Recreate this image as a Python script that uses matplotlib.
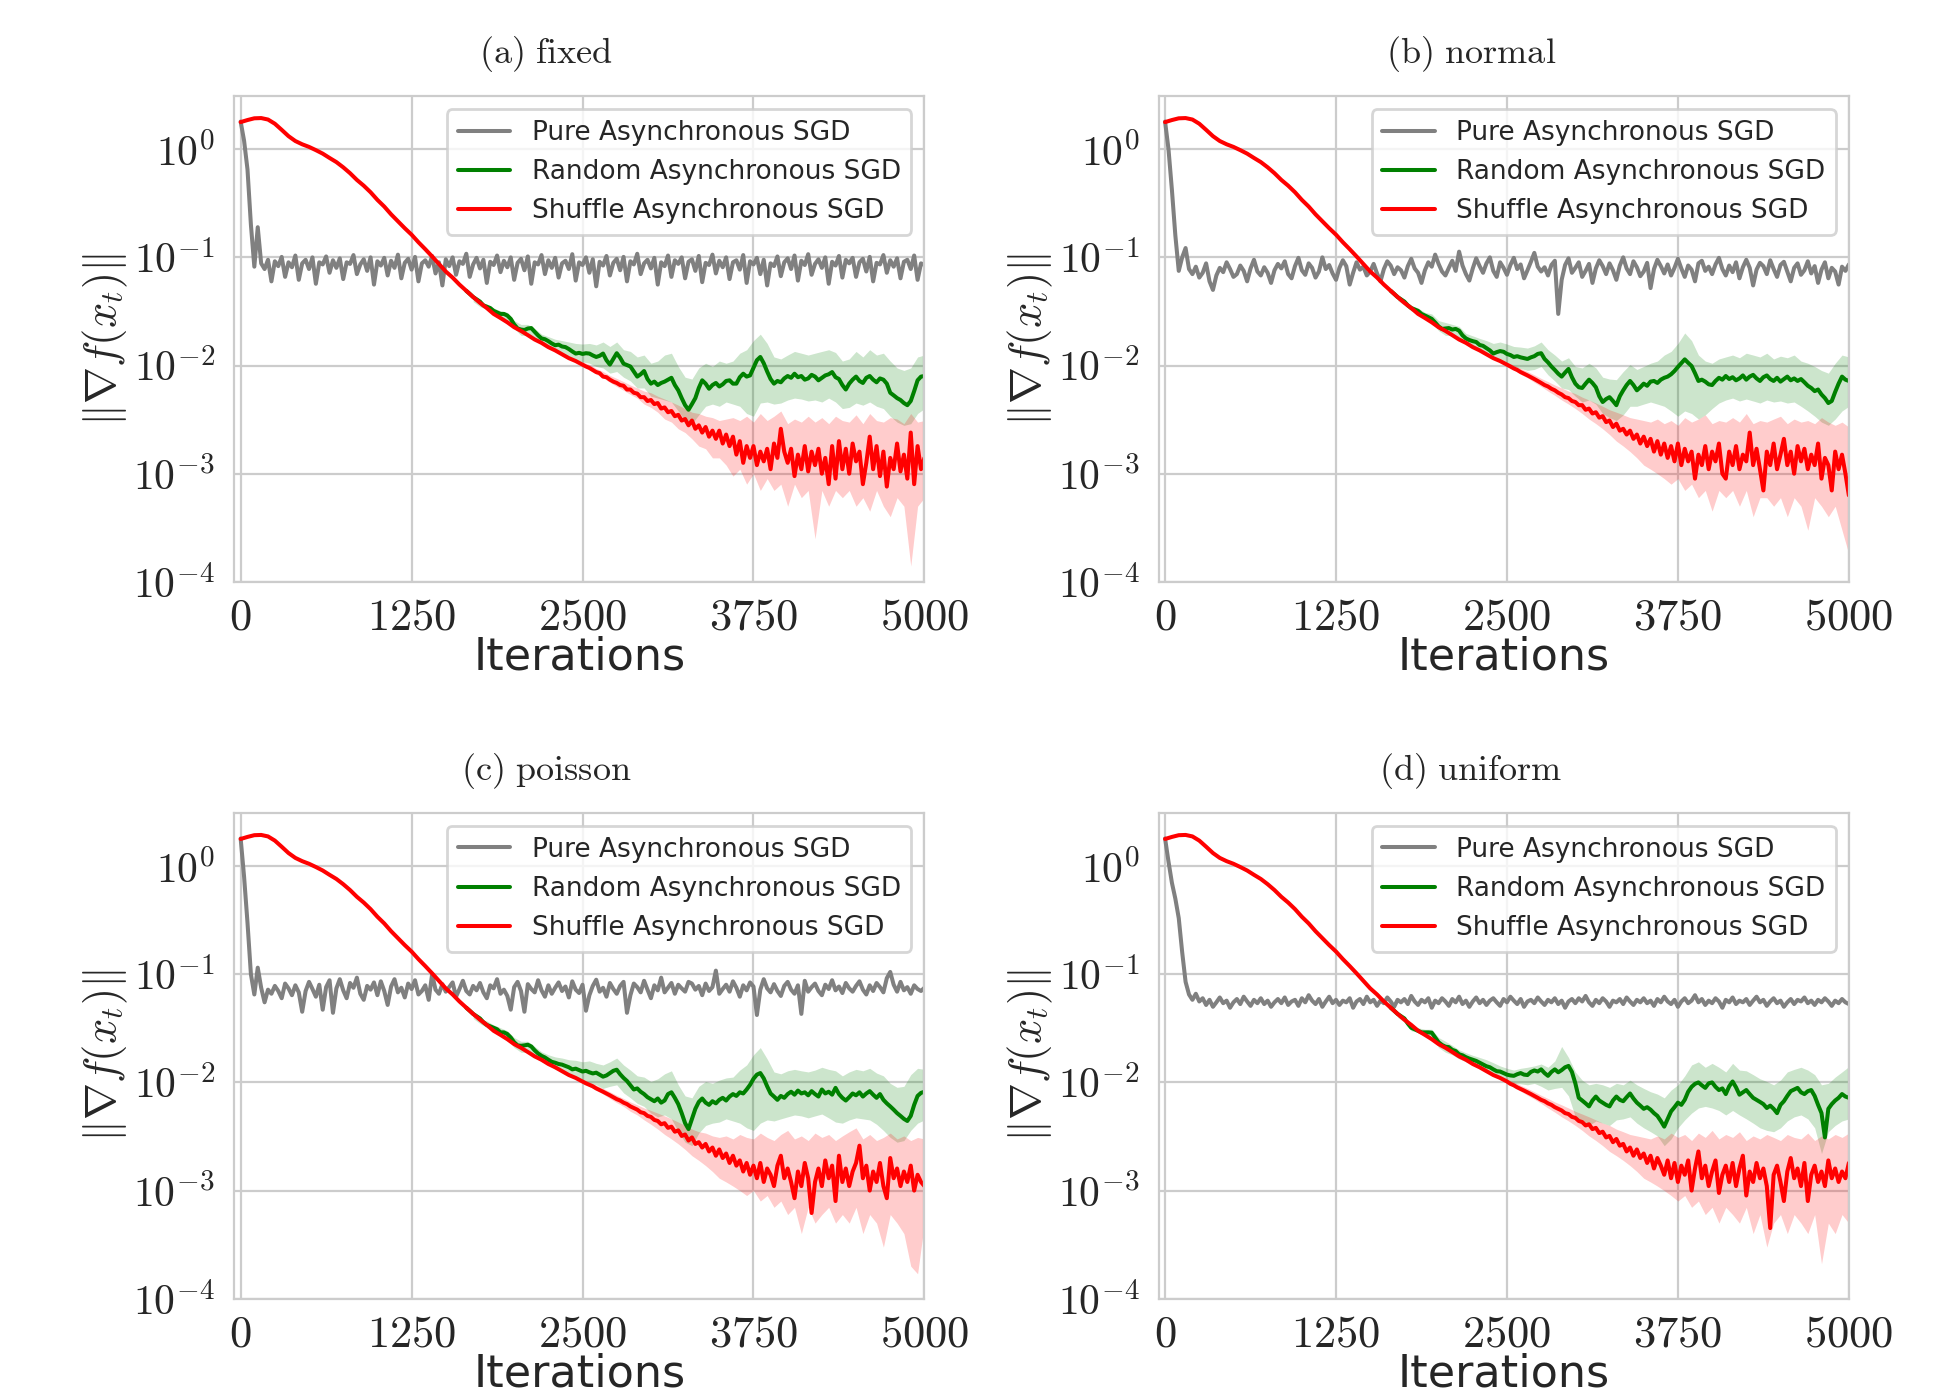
import numpy as np
import matplotlib
matplotlib.use("Agg")
import matplotlib.pyplot as plt
from matplotlib.ticker import FixedLocator, FuncFormatter, NullLocator
import seaborn as sns

sns.set_style("whitegrid")
plt.rcParams['font.family'] = ['DejaVu Sans']
plt.rcParams['mathtext.fontset'] = 'cm'

PANEL_TITLES = ["(a) fixed", "(b) normal", "(c) poisson", "(d) uniform"]
LEGEND_LABELS = ["Pure Asynchronous SGD", "Random Asynchronous SGD", "Shuffle Asynchronous SGD"]
X_TICKS = [0, 1250, 2500, 3750, 5000]
Y_TICKS = [1e-4, 1e-3, 1e-2, 1e-1, 1e0]
X_LABEL = "Iterations"
Y_LABEL = r"$\|\nabla f(x_t)\|$"

# ---------------- Pure asynchronous SGD (iterations 0..5000, step 25) ----------------
GRAY_FIXED = [
    1.8, 1.2, 0.65, 0.2, 0.082, 0.19, 0.088, 0.078, 0.095, 0.06,
    0.092, 0.083, 0.101, 0.066, 0.09, 0.081, 0.104, 0.062, 0.088, 0.095,
    0.078, 0.1, 0.057, 0.09, 0.086, 0.102, 0.072, 0.094, 0.08, 0.098,
    0.063, 0.09, 0.087, 0.105, 0.07, 0.086, 0.096, 0.075, 0.1, 0.056,
    0.092, 0.084, 0.099, 0.068, 0.093, 0.08, 0.106, 0.064, 0.089, 0.097,
    0.077, 0.101, 0.06, 0.088, 0.094, 0.082, 0.103, 0.071, 0.09, 0.055,
    0.096, 0.083, 0.1, 0.069, 0.092, 0.087, 0.108, 0.066, 0.086, 0.099,
    0.079, 0.095, 0.058, 0.091, 0.085, 0.104, 0.073, 0.093, 0.081, 0.1,
    0.062, 0.089, 0.097, 0.076, 0.102, 0.057, 0.09, 0.086, 0.105, 0.07,
    0.094, 0.08, 0.099, 0.065, 0.088, 0.093, 0.078, 0.107, 0.061, 0.09,
    0.085, 0.1, 0.072, 0.096, 0.054, 0.091, 0.084, 0.103, 0.068, 0.089,
    0.097, 0.076, 0.101, 0.06, 0.092, 0.086, 0.108, 0.07, 0.088, 0.095,
    0.079, 0.099, 0.056, 0.09, 0.083, 0.104, 0.066, 0.094, 0.087, 0.1,
    0.064, 0.091, 0.096, 0.075, 0.103, 0.059, 0.089, 0.085, 0.106, 0.071,
    0.093, 0.081, 0.1, 0.063, 0.09, 0.094, 0.077, 0.105, 0.058, 0.092,
    0.086, 0.099, 0.07, 0.095, 0.055, 0.088, 0.083, 0.102, 0.067, 0.09,
    0.098, 0.078, 0.104, 0.061, 0.093, 0.085, 0.107, 0.069, 0.087, 0.096,
    0.08, 0.1, 0.057, 0.091, 0.084, 0.103, 0.065, 0.095, 0.088, 0.099,
    0.066, 0.09, 0.097, 0.074, 0.101, 0.06, 0.089, 0.086, 0.105, 0.072,
    0.094, 0.082, 0.098, 0.064, 0.091, 0.095, 0.078, 0.104, 0.062, 0.088,
    0.085]
GRAY_NORMAL = [
    1.8, 1.0, 0.42, 0.16, 0.075, 0.1, 0.122, 0.078, 0.07, 0.082,
    0.065, 0.072, 0.088, 0.06, 0.05, 0.068, 0.08, 0.073, 0.09, 0.078,
    0.066, 0.07, 0.084, 0.075, 0.06, 0.079, 0.095, 0.074, 0.068, 0.081,
    0.072, 0.058, 0.076, 0.087, 0.079, 0.092, 0.07, 0.064, 0.083, 0.099,
    0.076, 0.069, 0.088, 0.08, 0.065, 0.074, 0.1, 0.078, 0.085, 0.071,
    0.062, 0.08, 0.094, 0.083, 0.056, 0.072, 0.09, 0.077, 0.082, 0.068,
    0.074, 0.087, 0.071, 0.06, 0.078, 0.092, 0.084, 0.07, 0.081, 0.076,
    0.065, 0.083, 0.097, 0.079, 0.072, 0.058, 0.076, 0.09, 0.082, 0.106,
    0.087, 0.074, 0.068, 0.08, 0.093, 0.075, 0.113, 0.084, 0.07, 0.061,
    0.079, 0.098, 0.083, 0.072, 0.088, 0.1, 0.075, 0.066, 0.09, 0.08,
    0.069, 0.085, 0.099, 0.078, 0.086, 0.064, 0.076, 0.091, 0.11, 0.082,
    0.074, 0.081, 0.068, 0.085, 0.093, 0.03, 0.062, 0.085, 0.098, 0.072,
    0.08, 0.09, 0.066, 0.075, 0.087, 0.058, 0.079, 0.094, 0.083, 0.07,
    0.088, 0.076, 0.062, 0.084, 0.1, 0.079, 0.07, 0.092, 0.081, 0.067,
    0.074, 0.089, 0.052, 0.078, 0.095, 0.083, 0.071, 0.086, 0.068, 0.08,
    0.097, 0.079, 0.066, 0.084, 0.077, 0.06, 0.088, 0.093, 0.075, 0.082,
    0.07, 0.086, 0.099, 0.078, 0.068, 0.084, 0.073, 0.09, 0.064, 0.081,
    0.095, 0.08, 0.055, 0.077, 0.089, 0.083, 0.07, 0.094, 0.078, 0.066,
    0.085, 0.091, 0.074, 0.06, 0.08, 0.088, 0.069, 0.076, 0.092, 0.071,
    0.083, 0.058, 0.077, 0.09, 0.064, 0.08, 0.074, 0.056, 0.082, 0.075,
    0.086]
GRAY_POISSON = [
    1.8, 0.8, 0.3, 0.1, 0.065, 0.115, 0.075, 0.055, 0.072, 0.066,
    0.078, 0.07, 0.06, 0.082, 0.074, 0.064, 0.079, 0.068, 0.045, 0.07,
    0.085, 0.073, 0.062, 0.08, 0.047, 0.076, 0.088, 0.044, 0.074, 0.09,
    0.071, 0.06, 0.083, 0.075, 0.093, 0.066, 0.058, 0.078, 0.072, 0.084,
    0.064, 0.086, 0.07, 0.052, 0.077, 0.09, 0.068, 0.075, 0.061, 0.082,
    0.073, 0.088, 0.065, 0.07, 0.079, 0.058, 0.1, 0.072, 0.066, 0.081,
    0.069, 0.076, 0.084, 0.062, 0.073, 0.087, 0.07, 0.065, 0.078, 0.071,
    0.083, 0.068, 0.06, 0.079, 0.074, 0.09, 0.066, 0.072, 0.063, 0.047,
    0.076, 0.085, 0.07, 0.045, 0.081, 0.073, 0.068, 0.088, 0.071, 0.062,
    0.079, 0.066, 0.075, 0.084, 0.07, 0.077, 0.061, 0.086, 0.072, 0.067,
    0.08, 0.046, 0.064, 0.078, 0.089, 0.069, 0.075, 0.062, 0.083, 0.073,
    0.066, 0.078, 0.085, 0.044, 0.064, 0.082, 0.076, 0.068, 0.087, 0.072,
    0.06, 0.079, 0.071, 0.093, 0.068, 0.075, 0.083, 0.066, 0.08, 0.074,
    0.069, 0.085, 0.082, 0.072, 0.078, 0.064, 0.082, 0.07, 0.076, 0.108,
    0.066, 0.073, 0.08, 0.069, 0.086, 0.075, 0.062, 0.079, 0.071, 0.084,
    0.077, 0.042, 0.072, 0.09, 0.074, 0.068, 0.081, 0.07, 0.063, 0.078,
    0.085, 0.072, 0.066, 0.079, 0.043, 0.087, 0.069, 0.076, 0.082, 0.07,
    0.064, 0.08, 0.073, 0.088, 0.071, 0.077, 0.067, 0.083, 0.074, 0.069,
    0.078, 0.086, 0.072, 0.065, 0.079, 0.07, 0.083, 0.076, 0.068, 0.092,
    0.105, 0.08, 0.069, 0.085, 0.071, 0.076, 0.066, 0.079, 0.073, 0.07,
    0.075]
GRAY_UNIFORM = [
    1.8, 1.1, 0.7, 0.5, 0.33, 0.16, 0.085, 0.065, 0.058, 0.066,
    0.056, 0.06, 0.052, 0.058, 0.05, 0.055, 0.061, 0.054, 0.057, 0.049,
    0.055, 0.059, 0.053, 0.062, 0.056, 0.051, 0.058, 0.054, 0.06, 0.053,
    0.057, 0.05, 0.055, 0.059, 0.054, 0.061, 0.052, 0.056, 0.058, 0.051,
    0.06, 0.055, 0.064, 0.057, 0.053, 0.059, 0.05, 0.056, 0.062, 0.054,
    0.058, 0.052, 0.057, 0.055, 0.06, 0.049, 0.056, 0.059, 0.053, 0.062,
    0.055, 0.058, 0.051, 0.057, 0.054, 0.061, 0.056, 0.05, 0.058, 0.055,
    0.059, 0.053, 0.063, 0.056, 0.052, 0.058, 0.055, 0.06, 0.049, 0.057,
    0.054, 0.06, 0.056, 0.051, 0.059, 0.055, 0.062, 0.053, 0.057, 0.05,
    0.056, 0.061, 0.054, 0.058, 0.052, 0.057, 0.06, 0.055, 0.051, 0.059,
    0.055, 0.062, 0.057, 0.053, 0.059, 0.05, 0.056, 0.058, 0.054, 0.061,
    0.056, 0.052, 0.058, 0.055, 0.06, 0.053, 0.057, 0.049, 0.056, 0.059,
    0.054, 0.06, 0.056, 0.063, 0.055, 0.051, 0.058, 0.054, 0.06, 0.056,
    0.05, 0.057, 0.055, 0.059, 0.053, 0.061, 0.056, 0.052, 0.058, 0.055,
    0.06, 0.054, 0.057, 0.051, 0.059, 0.055, 0.062, 0.056, 0.053, 0.058,
    0.05, 0.056, 0.06, 0.054, 0.057, 0.064, 0.055, 0.059, 0.052, 0.057,
    0.054, 0.06, 0.056, 0.049, 0.058, 0.055, 0.061, 0.053, 0.057, 0.055,
    0.059, 0.052, 0.057, 0.062, 0.055, 0.058, 0.051, 0.056, 0.06, 0.054,
    0.057, 0.05, 0.055, 0.059, 0.053, 0.058, 0.056, 0.061, 0.054, 0.057,
    0.052, 0.058, 0.055, 0.06, 0.056, 0.051, 0.057, 0.054, 0.059, 0.055,
    0.053]

# ---------------- Shuffle asynchronous SGD ----------------
# smooth common head, iterations 0..2500 step 50
RED_HEAD = [1.78, 1.86, 1.93, 1.94, 1.88, 1.72, 1.51, 1.32, 1.19, 1.11,
            1.05, 0.98, 0.91, 0.83, 0.76, 0.68, 0.60, 0.52, 0.46, 0.40,
            0.34, 0.295, 0.25, 0.216, 0.186, 0.162, 0.138, 0.119, 0.102, 0.087,
            0.074, 0.065, 0.056, 0.049, 0.043, 0.038, 0.034, 0.030, 0.0275, 0.0251,
            0.0226, 0.0209, 0.0191, 0.0174, 0.0162, 0.0148, 0.0138, 0.0127, 0.0117, 0.0110,
            0.0102]
# tails, iterations 2525..5000 step 25
RED_TAIL_FIXED = [
    0.0098, 0.0095, 0.0091, 0.0087, 0.0085, 0.0079, 0.0078, 0.0074, 0.0071, 0.0069,
    0.0066, 0.0065, 0.0060, 0.0060, 0.0056, 0.0055, 0.0051, 0.0051, 0.0047, 0.0048,
    0.0044, 0.0045, 0.0040, 0.0041, 0.0037, 0.0038, 0.0034, 0.0035, 0.0031, 0.0032,
    0.0028, 0.0031, 0.0026, 0.0028, 0.0024, 0.0027, 0.0022, 0.0025, 0.0021, 0.0025,
    0.0019, 0.0023, 0.0018, 0.0022, 0.0015, 0.0020, 0.00126, 0.0018, 0.0014, 0.0018,
    0.0012, 0.0016, 0.0013, 0.0017, 0.0011, 0.0019, 0.0014, 0.0026, 0.0016, 0.00126,
    0.0017, 0.00095, 0.0015, 0.0011, 0.0018, 0.00105, 0.0016, 0.0012, 0.0017, 0.0010,
    0.0014, 0.0008, 0.0018, 0.0009, 0.0020, 0.0011, 0.0017, 0.0010, 0.0019, 0.0013,
    0.0016, 0.0008, 0.00126, 0.0022, 0.0011, 0.0018, 0.00095, 0.0016, 0.00076, 0.0014,
    0.0011, 0.0019, 0.00105, 0.0015, 0.0009, 0.0024, 0.0008, 0.0018, 0.0011, 0.0014]
RED_TAIL_NORMAL = [
    0.0098, 0.0094, 0.0091, 0.0087, 0.0084, 0.0081, 0.0078, 0.0075, 0.0072, 0.0069,
    0.0066, 0.0064, 0.0061, 0.0059, 0.0056, 0.0054, 0.0051, 0.0050, 0.0047, 0.0046,
    0.0043, 0.0043, 0.0039, 0.0040, 0.0036, 0.0037, 0.0033, 0.0034, 0.0030, 0.0031,
    0.0027, 0.0029, 0.0025, 0.0026, 0.0023, 0.0025, 0.0021, 0.0023, 0.0019, 0.0022,
    0.0018, 0.0021, 0.0016, 0.0020, 0.0015, 0.0019, 0.0014, 0.0018, 0.0013, 0.0019,
    0.0012, 0.0017, 0.0013, 0.0016, 0.0009, 0.0015, 0.0012, 0.0018, 0.0011, 0.0016,
    0.0013, 0.0019, 0.0010, 0.0009, 0.0016, 0.0012, 0.0018, 0.0011, 0.0015, 0.0013,
    0.0024, 0.0012, 0.0017, 0.0011, 0.0007, 0.0016, 0.0012, 0.0019, 0.0011, 0.0015,
    0.0021, 0.0012, 0.0016, 0.0010, 0.0018, 0.0013, 0.0017, 0.0011, 0.0015, 0.0012,
    0.0019, 0.0009, 0.0014, 0.0012, 0.0007, 0.0016, 0.0011, 0.0015, 0.0010, 0.00063]
RED_TAIL_POISSON = [
    0.0098, 0.0095, 0.0092, 0.0088, 0.0085, 0.0082, 0.0079, 0.0076, 0.0073, 0.007,
    0.0068, 0.0065, 0.0063, 0.006, 0.0058, 0.0056, 0.0053, 0.0052, 0.0049, 0.0048,
    0.0045, 0.0044, 0.0041, 0.0042, 0.0038, 0.0039, 0.0035, 0.0036, 0.0032, 0.0033,
    0.0029, 0.0031, 0.0027, 0.0028, 0.0025, 0.0027, 0.0023, 0.0025, 0.0021, 0.0024,
    0.002, 0.0022, 0.0018, 0.0021, 0.0017, 0.0019, 0.0015, 0.0018, 0.0014, 0.0017,
    0.0013, 0.0018, 0.0012, 0.0016, 0.0014, 0.0011, 0.0017, 0.0021, 0.0013, 0.0016,
    0.0012, 0.00085, 0.0015, 0.0011, 0.0018, 0.0013, 0.00062, 0.0012, 0.0016, 0.0011,
    0.0019, 0.0013, 0.0017, 0.0008, 0.0021, 0.0012, 0.0016, 0.0011, 0.0015, 0.0018,
    0.0026, 0.0013, 0.0017, 0.001, 0.0015, 0.0012, 0.0018, 0.0011, 0.00085, 0.002,
    0.0013, 0.0016, 0.0011, 0.0015, 0.0012, 0.0017, 0.001, 0.0014, 0.0012, 0.0011]
RED_TAIL_UNIFORM = [
    0.0097, 0.0094, 0.0090, 0.0087, 0.0084, 0.0081, 0.0078, 0.0075, 0.0072, 0.0069,
    0.0067, 0.0064, 0.0062, 0.0059, 0.0057, 0.0055, 0.0052, 0.0051, 0.0048, 0.0047,
    0.0044, 0.0043, 0.0040, 0.0041, 0.0037, 0.0038, 0.0034, 0.0035, 0.0031, 0.0032,
    0.0028, 0.003, 0.0026, 0.0027, 0.0023, 0.0025, 0.0021, 0.0024, 0.002, 0.0022,
    0.0018, 0.0021, 0.0016, 0.002, 0.0017, 0.0014, 0.0019, 0.0013, 0.0018, 0.0012,
    0.0017, 0.0014, 0.0019, 0.001, 0.0016, 0.0023, 0.0013, 0.0017, 0.0011, 0.0015,
    0.0019, 0.00095, 0.0014, 0.0017, 0.0012, 0.0018, 0.0011, 0.0016, 0.0021, 0.0009,
    0.0015, 0.0012, 0.0018, 0.0013, 0.0016, 0.0011, 0.00045, 0.0014, 0.0017, 0.0012,
    0.0008, 0.0015, 0.002, 0.0013, 0.0016, 0.0011, 0.0018, 0.0008, 0.0014, 0.0017,
    0.0012, 0.0015, 0.0011, 0.0019, 0.0013, 0.0016, 0.0012, 0.0015, 0.0013, 0.0018]
# bands, iterations 2500..5000 step 50
RED_HI_FIXED = [0.0108, 0.0102, 0.0094, 0.0088, 0.0081, 0.0076, 0.0071, 0.0066, 0.0062, 0.0058,
                0.0056, 0.0052, 0.0049, 0.0046, 0.0043, 0.0040, 0.0037, 0.0036, 0.0034, 0.0033,
                0.0031, 0.0032, 0.0033, 0.0031, 0.0034, 0.0030, 0.0036, 0.0031, 0.0034, 0.0038,
                0.0029, 0.0032, 0.0030, 0.0034, 0.0030, 0.0033, 0.0029, 0.0034, 0.0031, 0.0030,
                0.0035, 0.0029, 0.0036, 0.0031, 0.0030, 0.0033, 0.0032, 0.0029, 0.0036, 0.0030, 0.0031]
RED_LO_FIXED = [0.0099, 0.0091, 0.0083, 0.0077, 0.0070, 0.0064, 0.0059, 0.0054, 0.0050, 0.0044,
                0.0041, 0.0037, 0.0032, 0.0030, 0.0026, 0.0024, 0.0021, 0.0018, 0.0017, 0.0014,
                0.0014, 0.0012, 0.00095, 0.0011, 0.0008, 0.001, 0.0007, 0.0009, 0.0007, 0.0008,
                0.0005, 0.0008, 0.0006, 0.0007, 0.00025, 0.0007, 0.0005, 0.0007, 0.0006, 0.0007,
                0.0005, 0.0006, 0.00045, 0.0007, 0.0005, 0.0004, 0.0006, 0.0005, 0.00014, 0.0005, 0.0006]
RED_HI_NORMAL = [0.0107, 0.0101, 0.0094, 0.0088, 0.0082, 0.0076, 0.0071, 0.0066, 0.0062, 0.0058,
                 0.0055, 0.0051, 0.0048, 0.0045, 0.0042, 0.0039, 0.0037, 0.0035, 0.0033, 0.0032,
                 0.0031, 0.0030, 0.0032, 0.0029, 0.0031, 0.0028, 0.0033, 0.0030, 0.0032, 0.0035,
                 0.0029, 0.0031, 0.0030, 0.0033, 0.0030, 0.0036, 0.0029, 0.0031, 0.0030, 0.0032,
                 0.0034, 0.0029, 0.0032, 0.0030, 0.0031, 0.0029, 0.0033, 0.0030, 0.0028, 0.0030, 0.0027]
RED_LO_NORMAL = [0.0098, 0.0091, 0.0083, 0.0077, 0.007, 0.0064, 0.0058, 0.0053, 0.0048, 0.0044,
                 0.004, 0.0036, 0.0032, 0.0029, 0.0026, 0.0023, 0.002, 0.0018, 0.0016, 0.0014,
                 0.0012, 0.0011, 0.001, 0.0009, 0.0008, 0.0009, 0.0007, 0.0008, 0.0006, 0.0007,
                 0.00045, 0.0007, 0.0006, 0.0007, 0.0005, 0.0007, 0.0004, 0.0006, 0.0006, 0.0005,
                 0.0006, 0.0004, 0.0006, 0.0005, 0.0003, 0.0006, 0.0005, 0.0004, 0.0005, 0.0003, 0.00018]
RED_HI_POISSON = [0.0107, 0.0101, 0.0094, 0.0088, 0.0082, 0.0076, 0.0071, 0.0066, 0.0062, 0.0058,
                  0.0055, 0.0052, 0.0049, 0.0046, 0.0043, 0.004, 0.0037, 0.0035, 0.0034, 0.0032,
                  0.0031, 0.0032, 0.003, 0.0033, 0.0031, 0.003, 0.0034, 0.0031, 0.0029, 0.0033,
                  0.0036, 0.003, 0.0032, 0.0029, 0.0034, 0.0031, 0.0033, 0.0029, 0.0032, 0.0035,
                  0.0038, 0.003, 0.0033, 0.0029, 0.0031, 0.0034, 0.003, 0.0032, 0.0029, 0.0031, 0.003]
RED_LO_POISSON = [0.0099, 0.0092, 0.0085, 0.0078, 0.0071, 0.0065, 0.006, 0.0054, 0.005, 0.0045,
                  0.0041, 0.0037, 0.0033, 0.003, 0.0027, 0.0024, 0.0021, 0.0019, 0.0017, 0.0015,
                  0.0013, 0.0012, 0.0011, 0.001, 0.0009, 0.001, 0.0008, 0.0009, 0.0007, 0.0008,
                  0.0006, 0.0007, 0.0004, 0.0007, 0.0005, 0.0006, 0.0007, 0.0005, 0.0006, 0.0005,
                  0.0007, 0.0004, 0.0006, 0.0005, 0.0003, 0.0006, 0.0005, 0.0004, 0.0002, 0.00017, 0.0005]
RED_HI_UNIFORM = [0.0107, 0.0101, 0.0094, 0.0088, 0.0082, 0.0076, 0.0071, 0.0066, 0.0062, 0.0058,
                  0.0054, 0.0051, 0.0048, 0.0045, 0.0042, 0.004, 0.0037, 0.0035, 0.0033, 0.0032,
                  0.0031, 0.0030, 0.0032, 0.0030, 0.0034, 0.0031, 0.0033, 0.0029, 0.0034, 0.0031,
                  0.0036, 0.003, 0.0033, 0.0031, 0.0035, 0.0029, 0.0032, 0.003, 0.0033, 0.0031,
                  0.0029, 0.0033, 0.0031, 0.003, 0.0034, 0.0029, 0.0032, 0.0030, 0.0033, 0.0031, 0.0034]
RED_LO_UNIFORM = [0.0098, 0.0091, 0.0083, 0.0076, 0.007, 0.0064, 0.0058, 0.0053, 0.0048, 0.0044,
                  0.004, 0.0036, 0.0032, 0.0029, 0.0026, 0.0023, 0.0021, 0.0019, 0.0017, 0.0015,
                  0.0013, 0.0012, 0.0011, 0.001, 0.0009, 0.0008, 0.0009, 0.0007, 0.0008, 0.0006,
                  0.0007, 0.0005, 0.0007, 0.0006, 0.0005, 0.0007, 0.0004, 0.0006, 0.0003, 0.0005,
                  0.0006, 0.0004, 0.0006, 0.0005, 0.0004, 0.0006, 0.00021, 0.0005, 0.0004, 0.0006, 0.0005]

# ---------------- Random asynchronous SGD (iterations 1650..5000 step 25) ----------------
GREEN_FIXED = [
    0.049, 0.046, 0.043, 0.041, 0.039, 0.036, 0.035, 0.034, 0.032, 0.031,
    0.030, 0.030, 0.029, 0.027, 0.024, 0.022, 0.0215, 0.0213, 0.022, 0.0222,
    0.0205, 0.019, 0.0178, 0.0175, 0.0168, 0.016, 0.0154, 0.0156, 0.015, 0.0148,
    0.0142, 0.0135, 0.0129, 0.0131, 0.0128, 0.013, 0.0129, 0.0124, 0.012, 0.0123,
    0.0129, 0.0112, 0.0102, 0.0115, 0.013, 0.0118, 0.0104, 0.0101, 0.0098, 0.0088,
    0.0079, 0.0083, 0.0089, 0.0075, 0.0068, 0.0071, 0.0066, 0.0069, 0.0071, 0.0074,
    0.0077, 0.0066, 0.0059, 0.0050, 0.0043, 0.0039, 0.0044, 0.0050, 0.0062, 0.0073,
    0.0068, 0.0061, 0.0066, 0.0069, 0.0064, 0.0067, 0.0072, 0.0073, 0.0068, 0.0068,
    0.0078, 0.0084, 0.0079, 0.0081, 0.0095, 0.0112, 0.012, 0.0105, 0.0088, 0.0075,
    0.0068, 0.0072, 0.0070, 0.0076, 0.0080, 0.0077, 0.0084, 0.0078, 0.0080, 0.0074,
    0.0076, 0.0082, 0.0079, 0.0073, 0.0077, 0.0081, 0.0083, 0.0087, 0.0078, 0.0075,
    0.0066, 0.0060, 0.0068, 0.0074, 0.0079, 0.0072, 0.0069, 0.0077, 0.0080, 0.0074,
    0.0070, 0.0076, 0.0074, 0.0068, 0.0056, 0.0053, 0.0050, 0.0048, 0.0045, 0.0043,
    0.0047, 0.0058, 0.0073, 0.0079, 0.0080]
GREEN_NORMAL = [
    0.049, 0.046, 0.043, 0.041, 0.039, 0.036, 0.034, 0.033, 0.032, 0.03,
    0.029, 0.028, 0.027, 0.025, 0.023, 0.0218, 0.022, 0.0222, 0.0215, 0.0218,
    0.021, 0.019, 0.0178, 0.0172, 0.0168, 0.0165, 0.0155, 0.0152, 0.0145, 0.0138,
    0.0129, 0.0133, 0.0136, 0.0134, 0.0128, 0.0125, 0.012, 0.0122, 0.0119, 0.0117,
    0.0115, 0.0119, 0.0122, 0.0128, 0.013, 0.0115, 0.0107, 0.0098, 0.0091, 0.0084,
    0.0079, 0.0086, 0.0093, 0.0078, 0.0068, 0.0063, 0.0062, 0.0068, 0.0074, 0.0069,
    0.0063, 0.0052, 0.0046, 0.0049, 0.0051, 0.0047, 0.0043, 0.0052, 0.0059, 0.0066,
    0.0072, 0.0066, 0.0059, 0.0063, 0.0068, 0.0065, 0.0071, 0.0072, 0.0069, 0.0074,
    0.0077, 0.0079, 0.0083, 0.0089, 0.0097, 0.0105, 0.0114, 0.0106, 0.0099, 0.0085,
    0.0072, 0.0074, 0.0071, 0.0067, 0.0066, 0.0072, 0.0077, 0.0074, 0.0080, 0.0075,
    0.0078, 0.0073, 0.0076, 0.0081, 0.0074, 0.0079, 0.0082, 0.0076, 0.0072, 0.0078,
    0.0081, 0.0075, 0.0072, 0.0077, 0.0071, 0.0075, 0.0079, 0.0073, 0.0076, 0.0072,
    0.0075, 0.0070, 0.0065, 0.0062, 0.0058, 0.0060, 0.0054, 0.0050, 0.0045, 0.0047,
    0.0057, 0.0068, 0.0079, 0.0074, 0.0072]
GREEN_POISSON = [
    0.049, 0.046, 0.043, 0.041, 0.039, 0.036, 0.034, 0.033, 0.032, 0.031,
    0.029, 0.029, 0.028, 0.026, 0.0235, 0.022, 0.0218, 0.022, 0.0223, 0.0215,
    0.0198, 0.0185, 0.0176, 0.017, 0.0162, 0.0155, 0.0152, 0.0148, 0.0146, 0.0142,
    0.0138, 0.0132, 0.0134, 0.013, 0.0126, 0.0128, 0.0124, 0.0121, 0.0123, 0.0118,
    0.0113, 0.0116, 0.0122, 0.0128, 0.0131, 0.0119, 0.011, 0.0103, 0.0094, 0.0086,
    0.0088, 0.0082, 0.0078, 0.0073, 0.0070, 0.0067, 0.0071, 0.0065, 0.0068, 0.0078,
    0.0081, 0.0072, 0.0063, 0.0052, 0.0042, 0.0037, 0.0046, 0.0057, 0.0066, 0.0071,
    0.0065, 0.0062, 0.0067, 0.0064, 0.0069, 0.0072, 0.0068, 0.0074, 0.0078, 0.0075,
    0.0081, 0.0079, 0.0086, 0.0095, 0.0108, 0.0118, 0.0122, 0.0109, 0.0092, 0.0079,
    0.0074, 0.0069, 0.0075, 0.0072, 0.0078, 0.0082, 0.0077, 0.0084, 0.0079, 0.0081,
    0.0076, 0.0083, 0.0078, 0.0074, 0.0086, 0.0079, 0.0082, 0.0077, 0.0089, 0.0078,
    0.0072, 0.0068, 0.0073, 0.0079, 0.0076, 0.0081, 0.0074, 0.0079, 0.0083, 0.0077,
    0.0072, 0.0078, 0.0069, 0.0064, 0.0060, 0.0056, 0.0052, 0.0049, 0.0046, 0.0044,
    0.0049, 0.0062, 0.0075, 0.0080, 0.0082]
GREEN_UNIFORM = [
    0.049, 0.046, 0.043, 0.041, 0.039, 0.035, 0.032, 0.031, 0.03, 0.029,
    0.029, 0.029, 0.0288, 0.026, 0.0235, 0.0222, 0.0214, 0.0212, 0.02, 0.0195,
    0.0182, 0.0178, 0.0171, 0.0166, 0.0162, 0.0158, 0.0152, 0.0146, 0.0141, 0.0138,
    0.0132, 0.0127, 0.0126, 0.0122, 0.0118, 0.0116, 0.0115, 0.0119, 0.0122, 0.0118,
    0.0117, 0.0125, 0.0129, 0.0126, 0.0132, 0.0122, 0.0115, 0.0125, 0.0132, 0.0124,
    0.013, 0.0138, 0.0142, 0.0125, 0.0098, 0.0072, 0.0068, 0.0064, 0.006, 0.0068,
    0.0074, 0.0068, 0.0065, 0.0062, 0.006, 0.0068, 0.0074, 0.0069, 0.0067, 0.0073,
    0.0079, 0.0071, 0.0065, 0.0061, 0.0057, 0.0059, 0.0056, 0.0052, 0.0049, 0.0044,
    0.0039, 0.0046, 0.0054, 0.0059, 0.0065, 0.0062, 0.0069, 0.0082, 0.0091, 0.0097,
    0.0100, 0.0094, 0.0089, 0.0098, 0.0100, 0.0091, 0.0085, 0.0088, 0.0078, 0.0092,
    0.0102, 0.0090, 0.0077, 0.0081, 0.0085, 0.0078, 0.0072, 0.0069, 0.0066, 0.0063,
    0.0058, 0.0061, 0.0057, 0.0052, 0.0062, 0.0067, 0.0075, 0.0083, 0.0086, 0.0089,
    0.0081, 0.0078, 0.0083, 0.0085, 0.0075, 0.0062, 0.0052, 0.0031, 0.0057, 0.0063,
    0.0068, 0.0072, 0.0078, 0.0074, 0.0072]
# bands, iterations 1700..5000 step 50
GREEN_HI_FIXED = [0.043, 0.039, 0.037, 0.034, 0.032, 0.031, 0.026, 0.024, 0.024, 0.022,
                  0.0195, 0.0185, 0.0175, 0.017, 0.0165, 0.016, 0.0158, 0.016, 0.0155, 0.0165,
                  0.015, 0.0165, 0.014, 0.0135, 0.012, 0.0125, 0.0105, 0.011, 0.0125, 0.013,
                  0.0098, 0.0078, 0.0075, 0.0095, 0.0105, 0.0098, 0.011, 0.0105, 0.011, 0.013,
                  0.014, 0.017, 0.0195, 0.016, 0.012, 0.0115, 0.0125, 0.0135, 0.013, 0.0125,
                  0.013, 0.0135, 0.014, 0.0132, 0.011, 0.0115, 0.0135, 0.012, 0.014, 0.0125,
                  0.013, 0.011, 0.0095, 0.009, 0.0095, 0.012, 0.0125]
GREEN_LO_FIXED = [0.039, 0.035, 0.033, 0.030, 0.028, 0.026, 0.022, 0.019, 0.019, 0.018,
                  0.016, 0.015, 0.0135, 0.013, 0.0122, 0.0112, 0.0108, 0.0105, 0.0098, 0.0095,
                  0.0085, 0.0088, 0.0078, 0.0072, 0.0062, 0.0062, 0.0052, 0.005, 0.0048, 0.0046,
                  0.0038, 0.0031, 0.0029, 0.0035, 0.0042, 0.0044, 0.0042, 0.0046, 0.0044, 0.0042,
                  0.0036, 0.0034, 0.0045, 0.0046, 0.0044, 0.0045, 0.0048, 0.005, 0.0049, 0.0047,
                  0.0048, 0.0046, 0.005, 0.0046, 0.004, 0.0041, 0.0045, 0.0043, 0.0046, 0.0042,
                  0.004, 0.0034, 0.003, 0.0028, 0.0029, 0.0036, 0.004]
GREEN_HI_NORMAL = [0.044, 0.04, 0.036, 0.034, 0.031, 0.03, 0.026, 0.025, 0.024, 0.023,
                   0.0198, 0.0188, 0.0178, 0.017, 0.016, 0.0165, 0.0158, 0.015, 0.0148, 0.0145,
                   0.0152, 0.0165, 0.014, 0.0125, 0.011, 0.0118, 0.0098, 0.0095, 0.0105, 0.0095,
                   0.0078, 0.0075, 0.0074, 0.0088, 0.0102, 0.0092, 0.0098, 0.0105, 0.011, 0.0125,
                   0.0135, 0.016, 0.02, 0.017, 0.0125, 0.011, 0.0105, 0.0115, 0.012, 0.0125,
                   0.0118, 0.013, 0.0125, 0.012, 0.013, 0.0115, 0.0122, 0.0118, 0.0125, 0.011,
                   0.0105, 0.0098, 0.009, 0.0085, 0.0105, 0.0125, 0.012]
GREEN_LO_NORMAL = [0.04, 0.036, 0.032, 0.03, 0.027, 0.025, 0.021, 0.019, 0.019, 0.018,
                   0.016, 0.015, 0.0135, 0.0125, 0.0115, 0.0112, 0.0105, 0.0098, 0.0094, 0.009,
                   0.0092, 0.0098, 0.0082, 0.0072, 0.0062, 0.006, 0.0052, 0.0046, 0.0048, 0.0044,
                   0.0036, 0.0033, 0.0031, 0.0035, 0.0042, 0.0042, 0.0044, 0.0046, 0.0044, 0.0042,
                   0.0038, 0.0034, 0.0038, 0.0036, 0.0032, 0.0035, 0.004, 0.0045, 0.0048, 0.005,
                   0.0047, 0.0049, 0.0047, 0.0045, 0.0048, 0.0046, 0.0047, 0.0045, 0.0046, 0.0042,
                   0.0038, 0.0034, 0.003, 0.0028, 0.0032, 0.0038, 0.0042]
GREEN_HI_POISSON = [0.043, 0.039, 0.037, 0.034, 0.032, 0.03, 0.026, 0.024, 0.024, 0.0215,
                    0.0192, 0.018, 0.0172, 0.0168, 0.0162, 0.016, 0.0155, 0.0158, 0.015, 0.0145,
                    0.0155, 0.0168, 0.0145, 0.013, 0.0115, 0.0112, 0.0102, 0.0108, 0.012, 0.0128,
                    0.0095, 0.0075, 0.0072, 0.0092, 0.0102, 0.0098, 0.0105, 0.011, 0.0112, 0.013,
                    0.0145, 0.018, 0.021, 0.0165, 0.0125, 0.012, 0.0128, 0.0132, 0.0128, 0.0125,
                    0.013, 0.0138, 0.0132, 0.0128, 0.0115, 0.0125, 0.0132, 0.0128, 0.0135, 0.0122,
                    0.0115, 0.0098, 0.009, 0.0092, 0.0118, 0.0135, 0.0132]
GREEN_LO_POISSON = [0.039, 0.035, 0.032, 0.03, 0.027, 0.025, 0.021, 0.019, 0.019, 0.017,
                    0.0155, 0.0145, 0.0132, 0.0128, 0.012, 0.0112, 0.0105, 0.0098, 0.0095, 0.0088,
                    0.0092, 0.0095, 0.008, 0.0072, 0.0064, 0.006, 0.0052, 0.0048, 0.005, 0.0046,
                    0.0035, 0.0028, 0.0026, 0.0034, 0.004, 0.0042, 0.0043, 0.0046, 0.0044, 0.0042,
                    0.0038, 0.0036, 0.0042, 0.0045, 0.0044, 0.0046, 0.0048, 0.005, 0.0049, 0.0047,
                    0.0049, 0.0051, 0.0047, 0.0043, 0.0042, 0.0045, 0.0047, 0.0046, 0.0045, 0.0041,
                    0.0036, 0.0031, 0.0028, 0.0029, 0.0036, 0.0042, 0.0045]
GREEN_HI_UNIFORM = [0.044, 0.04, 0.035, 0.032, 0.031, 0.031, 0.026, 0.024, 0.022, 0.02,
                    0.0188, 0.0178, 0.017, 0.0162, 0.0152, 0.0142, 0.0135, 0.013, 0.0135, 0.0138,
                    0.0142, 0.0148, 0.0138, 0.0158, 0.0215, 0.017, 0.0125, 0.0105, 0.0095, 0.0098,
                    0.0095, 0.009, 0.0098, 0.0095, 0.0105, 0.0095, 0.0088, 0.0082, 0.0078, 0.0072,
                    0.0085, 0.0095, 0.0115, 0.0145, 0.0155, 0.0138, 0.015, 0.0138, 0.0125, 0.015,
                    0.013, 0.0128, 0.0118, 0.0108, 0.0102, 0.0095, 0.0105, 0.0125, 0.0132, 0.0138,
                    0.013, 0.0118, 0.0095, 0.0098, 0.0112, 0.0125, 0.014]
GREEN_LO_UNIFORM = [0.04, 0.036, 0.03, 0.029, 0.027, 0.027, 0.021, 0.019, 0.018, 0.0165,
                    0.0155, 0.0148, 0.0135, 0.0128, 0.0118, 0.011, 0.0102, 0.0098, 0.0097, 0.0095,
                    0.0098, 0.0092, 0.0085, 0.0088, 0.009, 0.0075, 0.0048, 0.0042, 0.004, 0.0044,
                    0.0042, 0.004, 0.0045, 0.0046, 0.0048, 0.0042, 0.0038, 0.0035, 0.0032, 0.0026,
                    0.003, 0.0038, 0.0045, 0.0052, 0.0058, 0.006, 0.0058, 0.0055, 0.005, 0.0055,
                    0.005, 0.0046, 0.0042, 0.0038, 0.0036, 0.0035, 0.0038, 0.0044, 0.0048, 0.005,
                    0.0046, 0.0038, 0.0022, 0.0035, 0.004, 0.0044, 0.0046]

PANELS = [
    dict(title=PANEL_TITLES[0], gray=GRAY_FIXED, red_tail=RED_TAIL_FIXED, red_lo=RED_LO_FIXED,
         red_hi=RED_HI_FIXED, green=GREEN_FIXED, green_lo=GREEN_LO_FIXED, green_hi=GREEN_HI_FIXED),
    dict(title=PANEL_TITLES[1], gray=GRAY_NORMAL, red_tail=RED_TAIL_NORMAL, red_lo=RED_LO_NORMAL,
         red_hi=RED_HI_NORMAL, green=GREEN_NORMAL, green_lo=GREEN_LO_NORMAL, green_hi=GREEN_HI_NORMAL),
    dict(title=PANEL_TITLES[2], gray=GRAY_POISSON, red_tail=RED_TAIL_POISSON, red_lo=RED_LO_POISSON,
         red_hi=RED_HI_POISSON, green=GREEN_POISSON, green_lo=GREEN_LO_POISSON, green_hi=GREEN_HI_POISSON),
    dict(title=PANEL_TITLES[3], gray=GRAY_UNIFORM, red_tail=RED_TAIL_UNIFORM, red_lo=RED_LO_UNIFORM,
         red_hi=RED_HI_UNIFORM, green=GREEN_UNIFORM, green_lo=GREEN_LO_UNIFORM, green_hi=GREEN_HI_UNIFORM),
]

fig = plt.figure(figsize=(9.69, 6.96), dpi=200)
positions = [[0.121, 0.582, 0.356, 0.349], [0.598, 0.582, 0.356, 0.349],
             [0.121, 0.067, 0.356, 0.349], [0.598, 0.067, 0.356, 0.349]]

LW = 1.45
for pos, p in zip(positions, PANELS):
    ax = fig.add_axes(pos)
    xg = np.linspace(0, 5000, len(p['gray']))
    ax.plot(xg, p['gray'], color='grey', lw=LW, label=LEGEND_LABELS[0])

    xgb = np.linspace(1700, 5000, len(p['green_hi']))
    ax.fill_between(xgb, p['green_lo'], p['green_hi'], color='green', alpha=0.2, lw=0)
    xgr = np.linspace(1650, 5000, len(p['green']))
    ax.plot(xgr, p['green'], color='green', lw=LW, label=LEGEND_LABELS[1])

    xrb = np.linspace(2500, 5000, len(p['red_hi']))
    ax.fill_between(xrb, p['red_lo'], p['red_hi'], color='red', alpha=0.2, lw=0)
    xr = np.concatenate([np.linspace(0, 2500, len(RED_HEAD)),
                         np.linspace(2525, 5000, len(p['red_tail']))])
    yr = np.concatenate([RED_HEAD, p['red_tail']])
    ax.plot(xr, yr, color='red', lw=LW, label=LEGEND_LABELS[2])

    ax.set_yscale('log')
    ax.set_ylim(1e-4, 3.1)
    ax.set_xlim(-45, 5000)
    ax.xaxis.set_major_locator(FixedLocator(X_TICKS))
    ax.xaxis.set_major_formatter(FuncFormatter(lambda v, _: f'${int(round(v))}$'))
    ax.yaxis.set_major_locator(FixedLocator(Y_TICKS))
    ax.yaxis.set_minor_locator(NullLocator())
    ax.yaxis.set_major_formatter(FuncFormatter(lambda v, _: rf'$10^{{{int(round(np.log10(v)))}}}$'))
    ax.tick_params(axis='y', labelsize=15)
    ax.tick_params(axis='x', labelsize=16, pad=1.5)
    ax.set_xlabel(X_LABEL, fontsize=16, labelpad=-1)
    ax.set_ylabel(Y_LABEL, fontsize=16, labelpad=1)
    ax.set_title(r'$\mathrm{' + p['title'].replace(' ', r'\ ') + '}$', fontsize=13, pad=12, x=0.452)
    ax.legend(loc='upper right', fontsize=9.5)

fig.savefig('out.png', dpi=200)
